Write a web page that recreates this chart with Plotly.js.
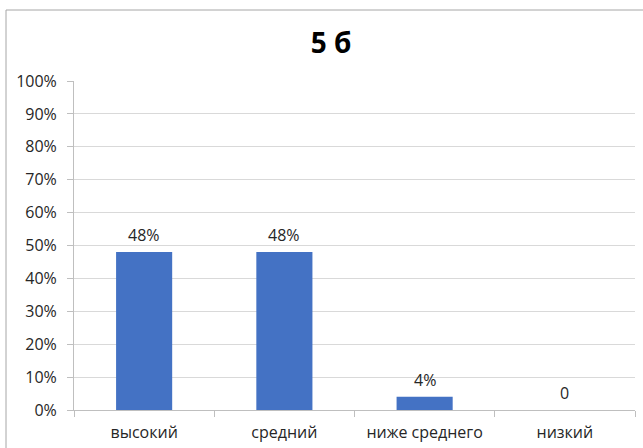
<!DOCTYPE html>
<html>
<head>
<meta charset="utf-8">
<script src="https://cdn.plot.ly/plotly-3.0.1.min.js"></script>
<style>html,body{margin:0;padding:0;background:#fff;}#chart{width:643px;height:448px;}</style>
</head>
<body>
<div id="chart"></div>
<script>
const categories = ["высокий", "средний", "ниже среднего", "низкий"];
const values = [0.48, 0.48, 0.04, 0];
const labels = ["48%", "48%", "4%", "0"];
const yTickVals = [0, 0.1, 0.2, 0.3, 0.4, 0.5, 0.6, 0.7, 0.8, 0.9, 1.0];
const yTickText = ["0%", "10%", "20%", "30%", "40%", "50%", "60%", "70%", "80%", "90%", "100%"];

const font = "Open Sans, Liberation Sans, sans-serif";
const textColor = "#262626";

const L = 74, R = 635, T = 81, B = 410;
const pw = R - L, ph = B - T;

const annotations = categories.map((c, i) => ({
  x: c, y: values[i], xref: "x", yref: "y",
  text: labels[i], showarrow: false,
  xanchor: "center", yanchor: "middle", yshift: 17,
  font: {family: font, size: 16, color: textColor}
}));

Plotly.newPlot("chart", [{
  type: "bar",
  x: categories,
  y: values,
  marker: {color: "#4472C4"},
  width: 0.4,
  hoverinfo: "none"
}], {
  width: 643, height: 448,
  margin: {l: L, r: 643 - R, t: T, b: 448 - B},
  paper_bgcolor: "#fff", plot_bgcolor: "#fff",
  font: {family: font, size: 16, color: textColor},
  title: {text: "<b>5 б</b>", x: 331 / 643, xanchor: "center", y: 1 - 43 / 448, yanchor: "middle",
          font: {family: font, size: 28, color: "#000"}},
  showlegend: false,
  annotations: annotations,
  xaxis: {
    type: "category",
    tickson: "boundaries",
    ticks: "outside", ticklen: 6, tickcolor: "#bfbfbf",
    ticklabelstandoff: 8,
    showline: true, linecolor: "#bfbfbf", linewidth: 1,
    showgrid: false,
    tickfont: {family: font, size: 16, color: textColor}
  },
  yaxis: {
    range: [0, 1],
    tickvals: yTickVals, ticktext: yTickText,
    ticks: "outside", ticklen: 6, tickcolor: "#bfbfbf",
    ticklabelstandoff: 7,
    showline: true, linecolor: "#bfbfbf", linewidth: 1,
    showgrid: true, gridcolor: "#d9d9d9",
    zeroline: false,
    tickfont: {family: font, size: 16, color: textColor}
  },
  shapes: [{
    type: "rect", xref: "paper", yref: "paper",
    x0: (6 - L) / pw, x1: (660 - L) / pw,
    y0: (B - 470) / ph, y1: (B - 10) / ph,
    line: {color: "#a6a6a6", width: 1}, fillcolor: "rgba(0,0,0,0)", layer: "below"
  }]
}, {displayModeBar: false, staticPlot: true});
</script>
</body>
</html>
